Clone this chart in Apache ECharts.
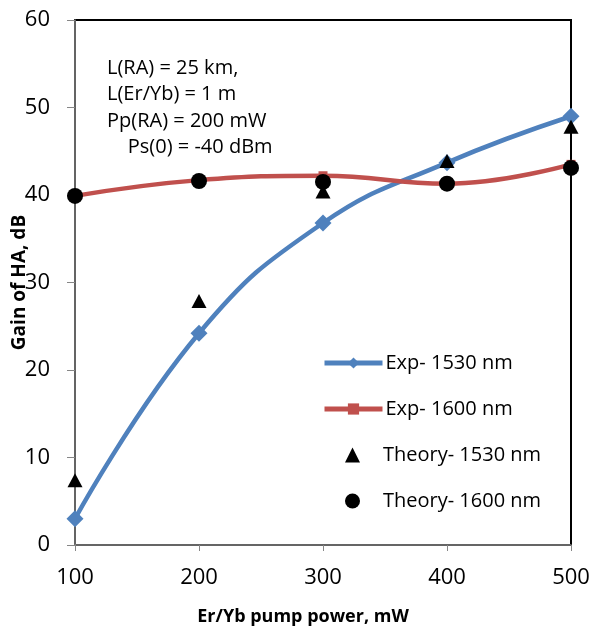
<!DOCTYPE html>
<html>
<head>
<meta charset="utf-8">
<script src="https://cdn.jsdelivr.net/npm/echarts@6/dist/echarts.min.js"></script>
<style>
  html, body { margin: 0; padding: 0; background: #fff; }
  #chart { width: 593px; height: 633px; }
</style>
</head>
<body>
<div id="chart"></div>
<script>
// pump power (mW)
const pumpPower = [100, 200, 300, 400, 500];
// gain values (dB)
const exp1530 = [3.0, 24.2, 36.8, 43.7, 49.0];
const exp1600 = [39.9, 41.7, 42.2, 41.3, 43.5];
const theory1530 = [7.4, 27.9, 40.4, 43.9, 47.8];
const theory1600 = [39.9, 41.6, 41.5, 41.3, 43.1];

const notes = ["L(RA) = 25 km,", "L(Er/Yb) = 1 m", "Pp(RA) = 200 mW", "    Ps(0) = -40 dBm"];

const font = "Open Sans";
const blue = "#4F81BD";
const red = "#C0504D";

function pairs(ys) {
  return pumpPower.map((x, i) => [x, ys[i]]);
}

const chart = echarts.init(document.getElementById("chart"));

const legendText = { fontSize: 20, color: "#000", fontFamily: font };

const option = {
  animation: false,
  textStyle: { fontFamily: font, color: "#000" },
  grid: {
    left: 75, right: 22, top: 20, bottom: 88,
    outerBoundsMode: "none",
    containLabel: false,
    show: true, borderColor: "#000", borderWidth: 2
  },
  xAxis: {
    type: "value",
    min: 100, max: 500, interval: 100,
    name: "Er/Yb pump power, mW",
    nameLocation: "middle",
    nameGap: 63,
    nameMoveOverlap: false,
    nameTextStyle: { fontSize: 18, fontWeight: "bold", color: "#000", fontFamily: font, padding: [0, 40, 0, 0] },
    axisLine: { lineStyle: { color: "#868686", width: 1.5 } },
    axisTick: { length: 6, lineStyle: { color: "#868686" } },
    axisLabel: { fontSize: 22, color: "#000", margin: 22, fontFamily: font },
    splitLine: { show: false }
  },
  yAxis: {
    type: "value",
    min: 0, max: 60, interval: 10,
    name: "Gain of HA, dB",
    nameLocation: "middle",
    nameGap: 46,
    nameMoveOverlap: false,
    nameTextStyle: { fontSize: 19, fontWeight: "bold", color: "#000", fontFamily: font },
    axisLine: { show: true, lineStyle: { color: "#868686", width: 1.5 } },
    axisTick: { show: true, length: 8, lineStyle: { color: "#868686" } },
    axisLabel: { fontSize: 22, color: "#000", margin: 25, fontFamily: font },
    splitLine: { show: false }
  },
  legend: [
    {
      orient: "vertical",
      left: 322, top: 353, padding: 0,
      itemWidth: 58, itemHeight: 14, itemGap: 26,
      textStyle: Object.assign({ padding: [0, 0, 0, -2] }, legendText),
      data: [
        { name: "Exp- 1530 nm", lineStyle: { width: 5, color: blue } },
        { name: "Exp- 1600 nm", lineStyle: { width: 5, color: red } }
      ]
    },
    {
      orient: "vertical",
      left: 345, top: 445, padding: 0,
      itemWidth: 15, itemHeight: 15, itemGap: 26,
      textStyle: Object.assign({ padding: [0, 0, 0, 18] }, legendText),
      data: [
        { name: "Theory- 1530 nm", icon: "triangle", itemStyle: { color: "#000" } },
        { name: "Theory- 1600 nm", icon: "circle", itemStyle: { color: "#000" } }
      ]
    }
  ],
  graphic: notes.map((t, i) => ({
    type: "text",
    left: 107,
    top: 58 + i * 26.5,
    style: { text: t, fontSize: 20, fontFamily: font, fill: "#000" }
  })),
  series: [
    {
      name: "Exp- 1530 nm",
      type: "line",
      smooth: 0.45,
      data: pairs(exp1530),
      symbol: "diamond",
      symbolSize: 17,
      lineStyle: { color: blue, width: 4.5 },
      itemStyle: { color: blue },
      z: 2
    },
    {
      name: "Exp- 1600 nm",
      type: "line",
      smooth: 0.45,
      data: pairs(exp1600),
      symbol: "rect",
      symbolSize: 9,
      lineStyle: { color: red, width: 4.5 },
      itemStyle: { color: red },
      z: 2
    },
    {
      name: "Theory- 1530 nm",
      type: "scatter",
      data: pairs(theory1530),
      symbol: "triangle",
      symbolSize: [15, 14],
      itemStyle: { color: "#000", opacity: 1 },
      z: 3
    },
    {
      name: "Theory- 1600 nm",
      type: "scatter",
      data: pairs(theory1600),
      symbol: "circle",
      symbolSize: 16,
      itemStyle: { color: "#000", opacity: 1 },
      z: 3
    }
  ]
};

chart.setOption(option);
</script>
</body>
</html>
